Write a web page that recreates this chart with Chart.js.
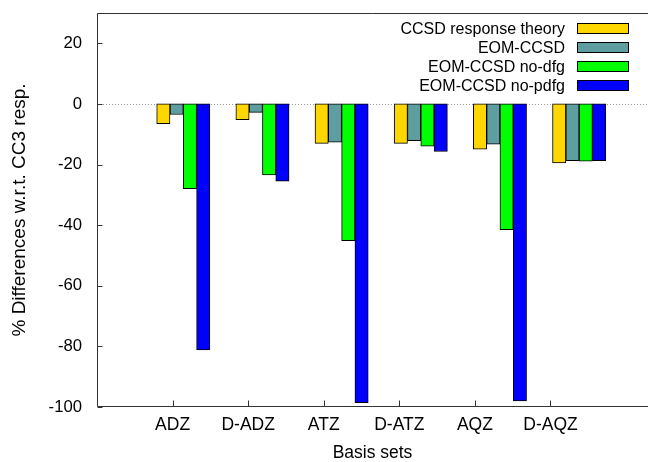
<!DOCTYPE html>
<html>
<head>
<meta charset="utf-8">
<script src="https://cdn.jsdelivr.net/npm/chart.js@4/dist/chart.umd.min.js"></script>
<style>
  body { margin: 0; background: #fff; }
  #wrap { width: 648px; height: 462px; position: relative; }
</style>
</head>
<body>
<div id="wrap"><canvas id="graphBasis"></canvas></div>
<script>
// basis sets along the x axis
const categories = ['ADZ', 'D-ADZ', 'ATZ', 'D-ATZ', 'AQZ', 'D-AQZ'];
const seriesNames = ['CCSD response theory', 'EOM-CCSD', 'EOM-CCSD no-dfg', 'EOM-CCSD no-pdfg'];
const seriesColors = ['#ffd700', '#5f9ea0', '#00ff00', '#0000ff'];

// % differences w.r.t. CC3 response
const ccsdResp = [-6.5, -5.2, -13.0, -13.0, -14.9, -19.5];
const eomCcsd = [-3.5, -2.8, -12.6, -12.1, -13.3, -18.7];
const eomNoDfg = [-28.0, -23.4, -45.1, -13.9, -41.5, -18.9];
const eomNoPdfg = [-81.2, -25.5, -98.6, -15.7, -98.0, -18.7];

const yTicks = [-100, -80, -60, -40, -20, 0, 20];

const font = "'Liberation Sans', Arial, Helvetica, sans-serif";
Chart.defaults.font.family = font;
Chart.defaults.font.size = 16;
Chart.defaults.color = '#000';

const allSeries = [ccsdResp, eomCcsd, eomNoDfg, eomNoPdfg];
const datasets = allSeries.map(function (vals, k) {
    return {
        label: seriesNames[k],
        data: vals.map(function (v, i) { return { x: i + 1, y: v }; }),
        backgroundColor: seriesColors[k],
        borderColor: '#000',
        borderWidth: 1,
        borderSkipped: false,
        barThickness: 13.3,
        xAxisID: 'x'
    };
});

// frame, inward ticks, dotted zero line and the key
const framePlugin = {
    id: 'framePlugin',
    beforeDatasetsDraw: function (chart) {
        const ctx = chart.ctx, a = chart.chartArea;
        const y0 = Math.round(chart.scales.y.getPixelForValue(0)) + 0.5;
        ctx.save();
        ctx.strokeStyle = '#999';
        ctx.lineWidth = 1;
        ctx.setLineDash([1, 2]);
        ctx.beginPath();
        ctx.moveTo(a.left, y0);
        ctx.lineTo(a.right, y0);
        ctx.stroke();
        ctx.restore();
    },
    afterDatasetsDraw: function (chart) {
        const ctx = chart.ctx, a = chart.chartArea;
        const ys = chart.scales.y, xs = chart.scales.xlab;
        const L = Math.round(a.left) + 0.5, T = Math.round(a.top) + 0.5, B = Math.round(a.bottom) - 0.5;
        ctx.save();
        ctx.strokeStyle = '#333';
        ctx.lineWidth = 1;
        ctx.beginPath();
        ctx.moveTo(a.right, T);
        ctx.lineTo(L, T);
        ctx.lineTo(L, B);
        ctx.lineTo(a.right, B);
        ctx.stroke();
        // y ticks pointing in
        yTicks.forEach(function (v) {
            const p = Math.round(ys.getPixelForValue(v)) + 0.5;
            ctx.beginPath();
            ctx.moveTo(L, p);
            ctx.lineTo(L + 5, p);
            ctx.stroke();
        });
        // x ticks pointing in
        categories.forEach(function (c, i) {
            const p = Math.round(xs.getPixelForValue(i + 1)) + 0.5;
            ctx.beginPath();
            ctx.moveTo(p, B);
            ctx.lineTo(p, B - 6);
            ctx.stroke();
        });
        // key
        ctx.font = '16px ' + font;
        ctx.textAlign = 'right';
        ctx.textBaseline = 'middle';
        chart.data.datasets.forEach(function (ds, k) {
            const cy = 28.5 + k * 19;
            ctx.fillStyle = '#000';
            ctx.fillText(ds.label, 565, cy + 1);
            ctx.fillStyle = ds.backgroundColor;
            ctx.fillRect(577.5, cy - 5, 51, 10);
            ctx.strokeStyle = '#000';
            ctx.strokeRect(577.5, cy - 5, 51, 10);
        });
        ctx.restore();
    }
};

function noPad(scale) {
    scale.paddingTop = 0;
    scale.paddingBottom = 0;
    scale.paddingLeft = 0;
    scale.paddingRight = 0;
}

new Chart(document.getElementById('graphBasis'), {
    type: 'bar',
    data: { datasets: datasets },
    options: {
        responsive: true,
        maintainAspectRatio: false,
        animation: false,
        layout: { padding: { top: 13, right: 0, left: 0, bottom: 0 } },
        plugins: {
            legend: { display: false },
            tooltip: { enabled: false }
        },
        scales: {
            x: {
                type: 'linear',
                display: false,
                offset: false,
                min: -0.09,
                max: 6.87,
                ticks: { stepSize: 1 }
            },
            xlab: {
                type: 'linear',
                position: 'bottom',
                offset: false,
                min: 0,
                max: 7.29,
                grid: { display: false, drawTicks: false, offset: false },
                border: { display: false },
                ticks: {
                    stepSize: 1,
                    includeBounds: false,
                    padding: 8,
                    autoSkip: false,
                    maxRotation: 0,
                    font: { size: 17.5 },
                    callback: function (v) { return categories[v - 1] || ''; }
                },
                title: { display: true, text: 'Basis sets', font: { size: 17.5, lineHeight: 1 }, padding: { top: 0, bottom: 0 } },
                afterFit: function (scale) { scale.height = 55; noPad(scale); }
            },
            y: {
                min: -100,
                max: 30,
                grid: { display: false, drawTicks: false },
                border: { display: false },
                ticks: {
                    stepSize: 20,
                    includeBounds: false,
                    padding: 15,
                    font: { size: 16.7 }
                },
                title: { display: true, text: '% Differences w.r.t. CC3 resp.', font: { size: 19, lineHeight: 1 }, padding: { top: 10, bottom: 0 } },
                afterFit: function (scale) { scale.width = 97; noPad(scale); }
            }
        }
    },
    plugins: [framePlugin]
});
</script>
</body>
</html>
